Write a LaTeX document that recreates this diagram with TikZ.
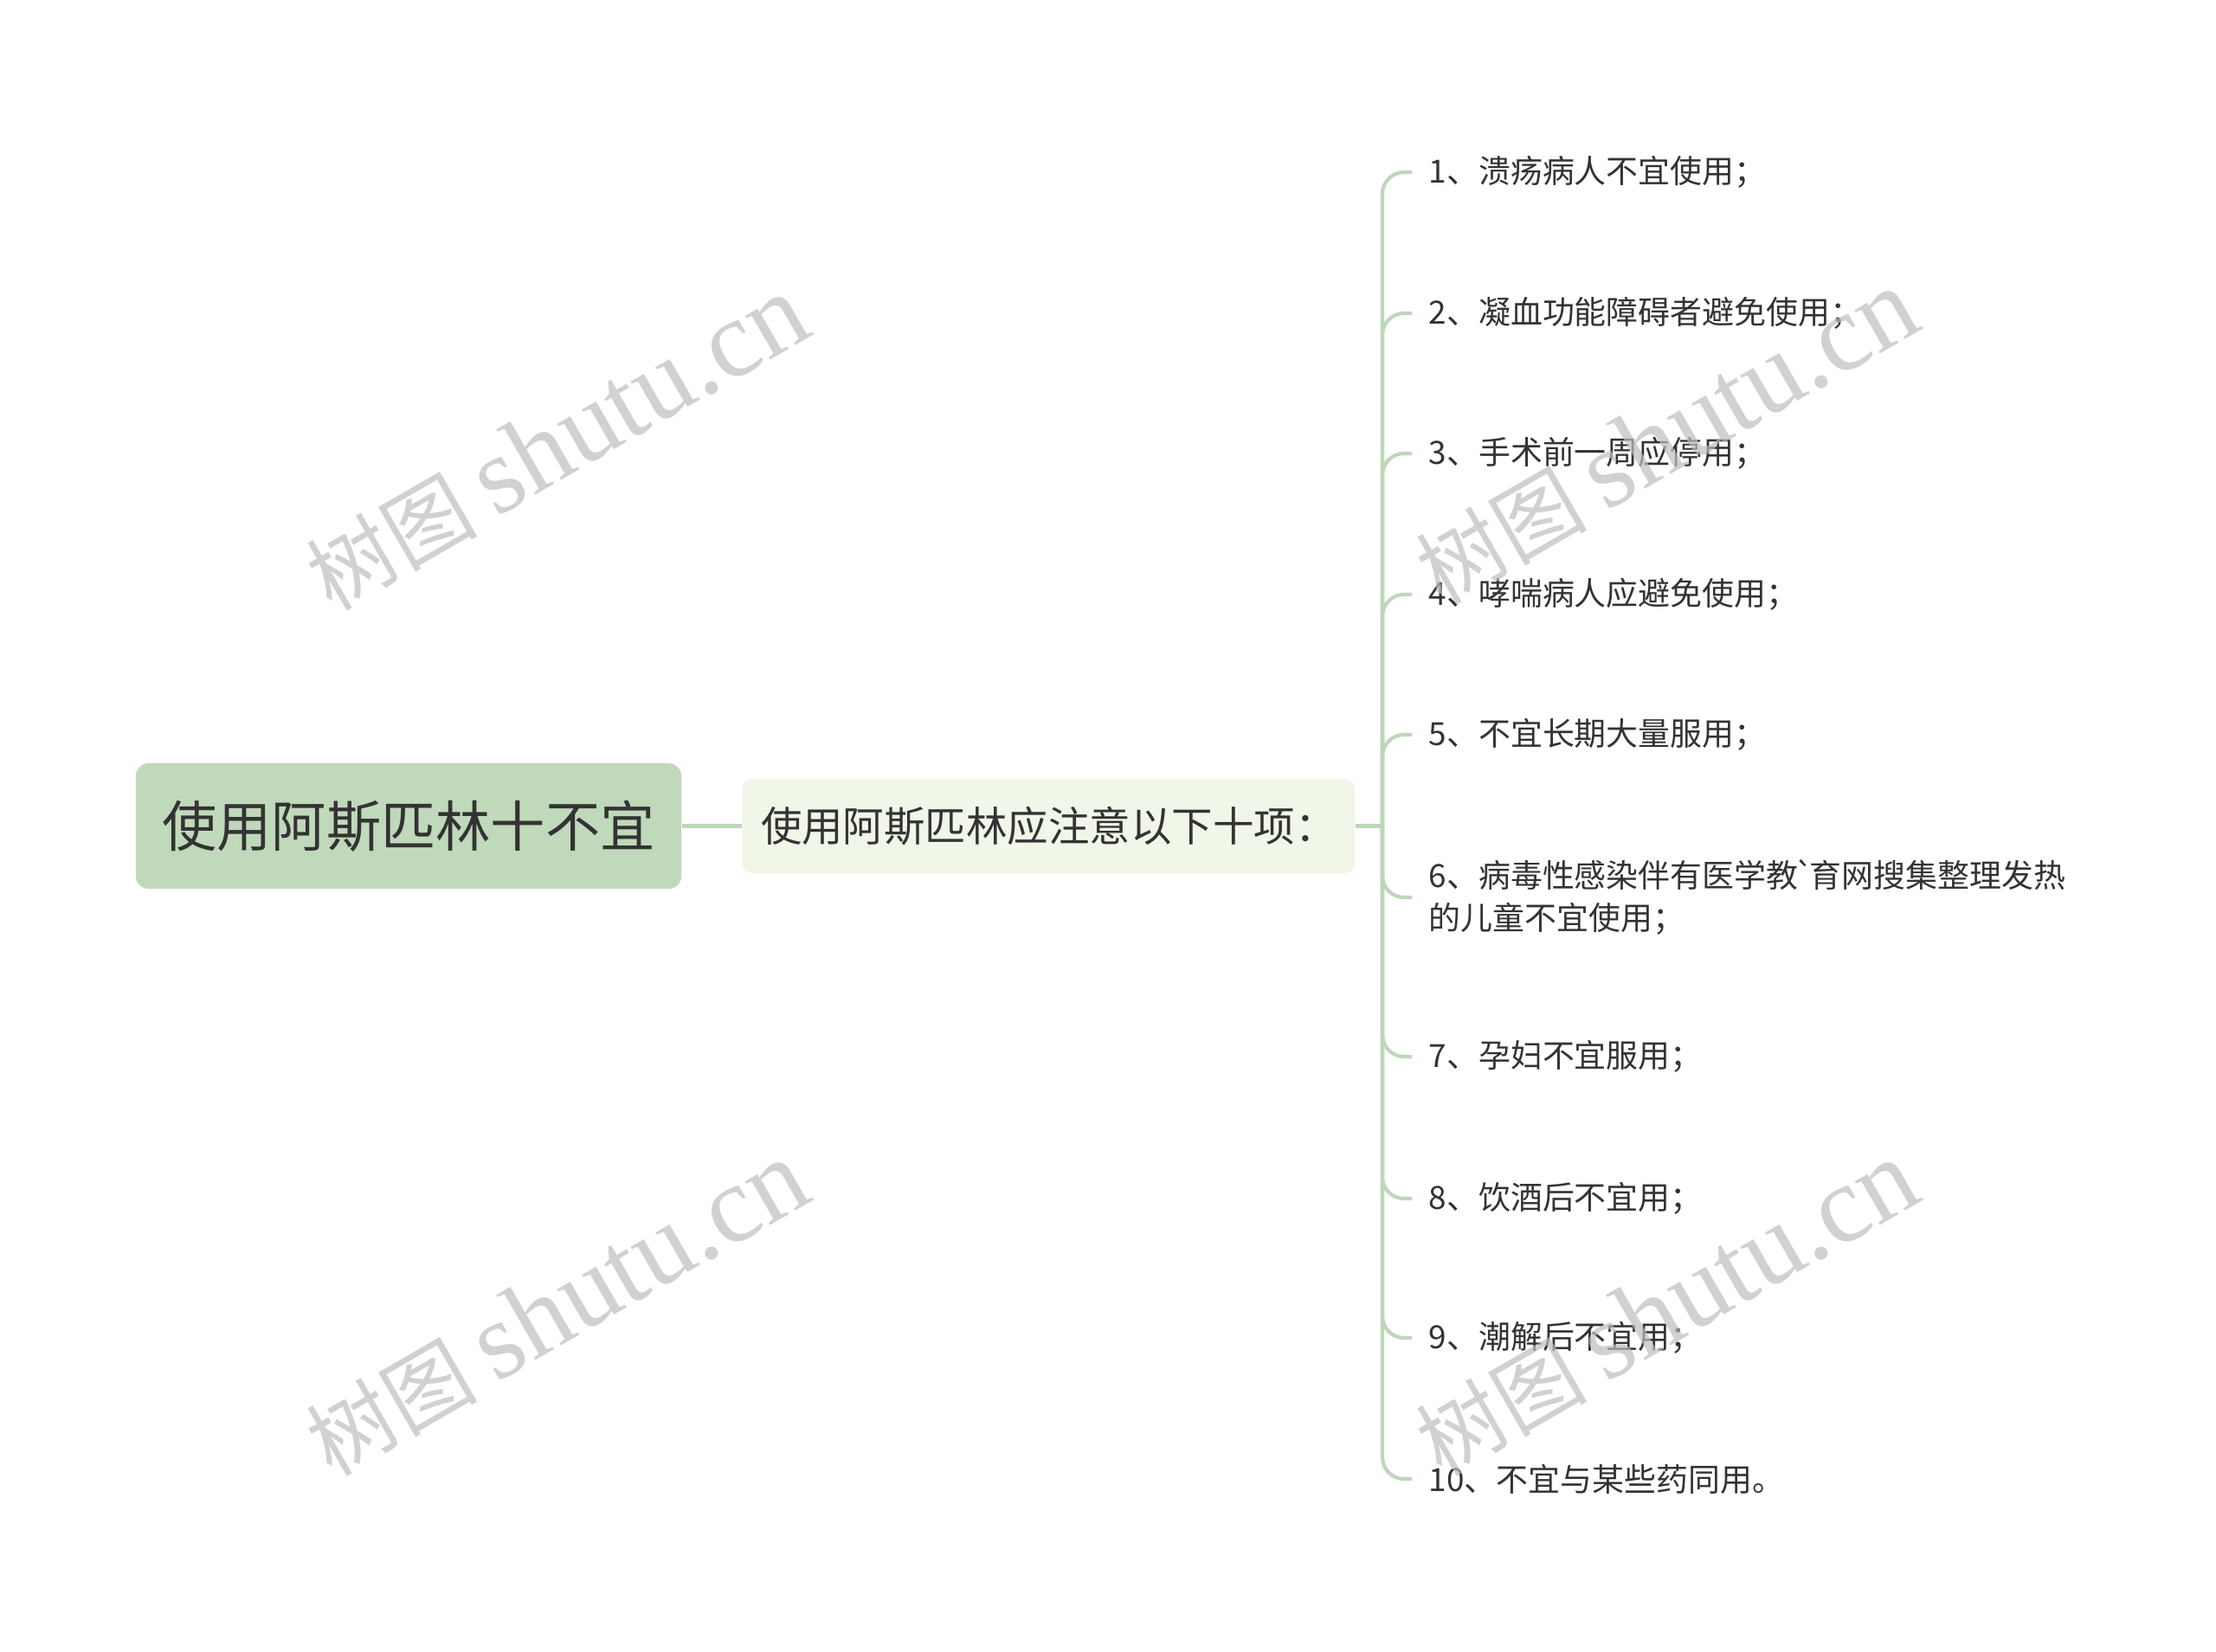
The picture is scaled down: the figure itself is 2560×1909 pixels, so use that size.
\documentclass[tikz,border=0pt]{standalone}
\usepackage{fontspec}
\setmainfont{Noto Sans CJK SC}
\newfontfamily\rawcjk{Noto Sans CJK SC}
\newfontfamily\wmlatin{Liberation Serif}
\usetikzlibrary{positioning}

\definecolor{rootgreen}{RGB}{192,217,186}
\definecolor{topicgreen}{RGB}{240,246,232}
\definecolor{linegreen}{RGB}{190,215,185}
\definecolor{txtgray}{RGB}{51,51,51}
\definecolor{wmgray}{RGB}{190,190,190}

\begin{document}
\begin{tikzpicture}[x=0.01cm, y=-0.01cm,
    rootbox/.style={fill=rootgreen, rounded corners=0.15cm, minimum width=6.3cm,
        minimum height=1.45cm, text=txtgray, font=\fontsize{18}{22}\selectfont},
    topicbox/.style={fill=topicgreen, rounded corners=0.12cm, minimum width=7.07cm,
        minimum height=1.09cm, text=txtgray, font=\fontsize{13.5}{16}\selectfont},
    leaf/.style={anchor=west, inner xsep=0.19cm, inner ysep=0.05cm, align=left,
        text=txtgray, font=\fontsize{10.5}{13.8}\selectfont},
    branch/.style={draw=linegreen, line width=0.042cm, rounded corners=0.25cm},
    wmark/.style={text=wmgray, text opacity=0.7, rotate=30,
        font=\fontsize{28}{34}\selectfont}]

    \fill[white] (0,0) rectangle (2560,1909);
    \useasboundingbox (0,0) rectangle (2560,1909);

    % Nodes

    \node[rootbox]    (root)  at (472,954.5) {使用阿斯匹林十不宜}; %
    \node[topicbox, right=0.69cm of root] (topic) {使用阿斯匹林应注意以下十项：}; %
    \coordinate (trunk) at (1597,954.5);

    % Leaves
    \node[leaf] (it1)  at (1631,199)  {1、溃疡病人不宜使用；};
    \node[leaf] (it2)  at (1631,362)  {2、凝血功能障碍者避免使用；};
    \node[leaf] (it3)  at (1631,524)  {3、手术前一周应停用；};
    \node[leaf] (it4)  at (1631,687)  {4、哮喘病人应避免使用；};
    \node[leaf] (it5)  at (1631,849)  {5、不宜长期大量服用；};
    \node[leaf] (it6)  at (1631,1037) {6、病毒性感染伴有医学教\kern-0.1em{\rawcjk `}\kern-0.15em育网搜集整理发热\\的儿童不宜使用；};
    \node[leaf] (it7)  at (1631,1221) {7、孕妇不宜服用；};
    \node[leaf] (it8)  at (1631,1385) {8、饮酒后不宜用；};
    \node[leaf] (it9)  at (1631,1546) {9、潮解后不宜用；};
    \node[leaf] (it10) at (1631,1709) {10、不宜与某些药同用。};

    % Edges
    \draw[branch] (root) -- (topic);
    \draw[branch] (topic) -- (trunk);
    \foreach \i in {1,...,10}
        \draw[branch] (trunk) |- (it\i.west);

    % Watermarks
    \node[wmark] (wm1) at (643,512)   {树图 {\wmlatin\fontsize{36}{40}\selectfont shutu.cn}};
    \node[wmark] (wm2) at (1925,505)  {树图 {\wmlatin\fontsize{36}{40}\selectfont shutu.cn}};
    \node[wmark] (wm3) at (643,1512)  {树图 {\wmlatin\fontsize{36}{40}\selectfont shutu.cn}};
    \node[wmark] (wm4) at (1925,1512) {树图 {\wmlatin\fontsize{36}{40}\selectfont shutu.cn}};

\end{tikzpicture}
\end{document}
